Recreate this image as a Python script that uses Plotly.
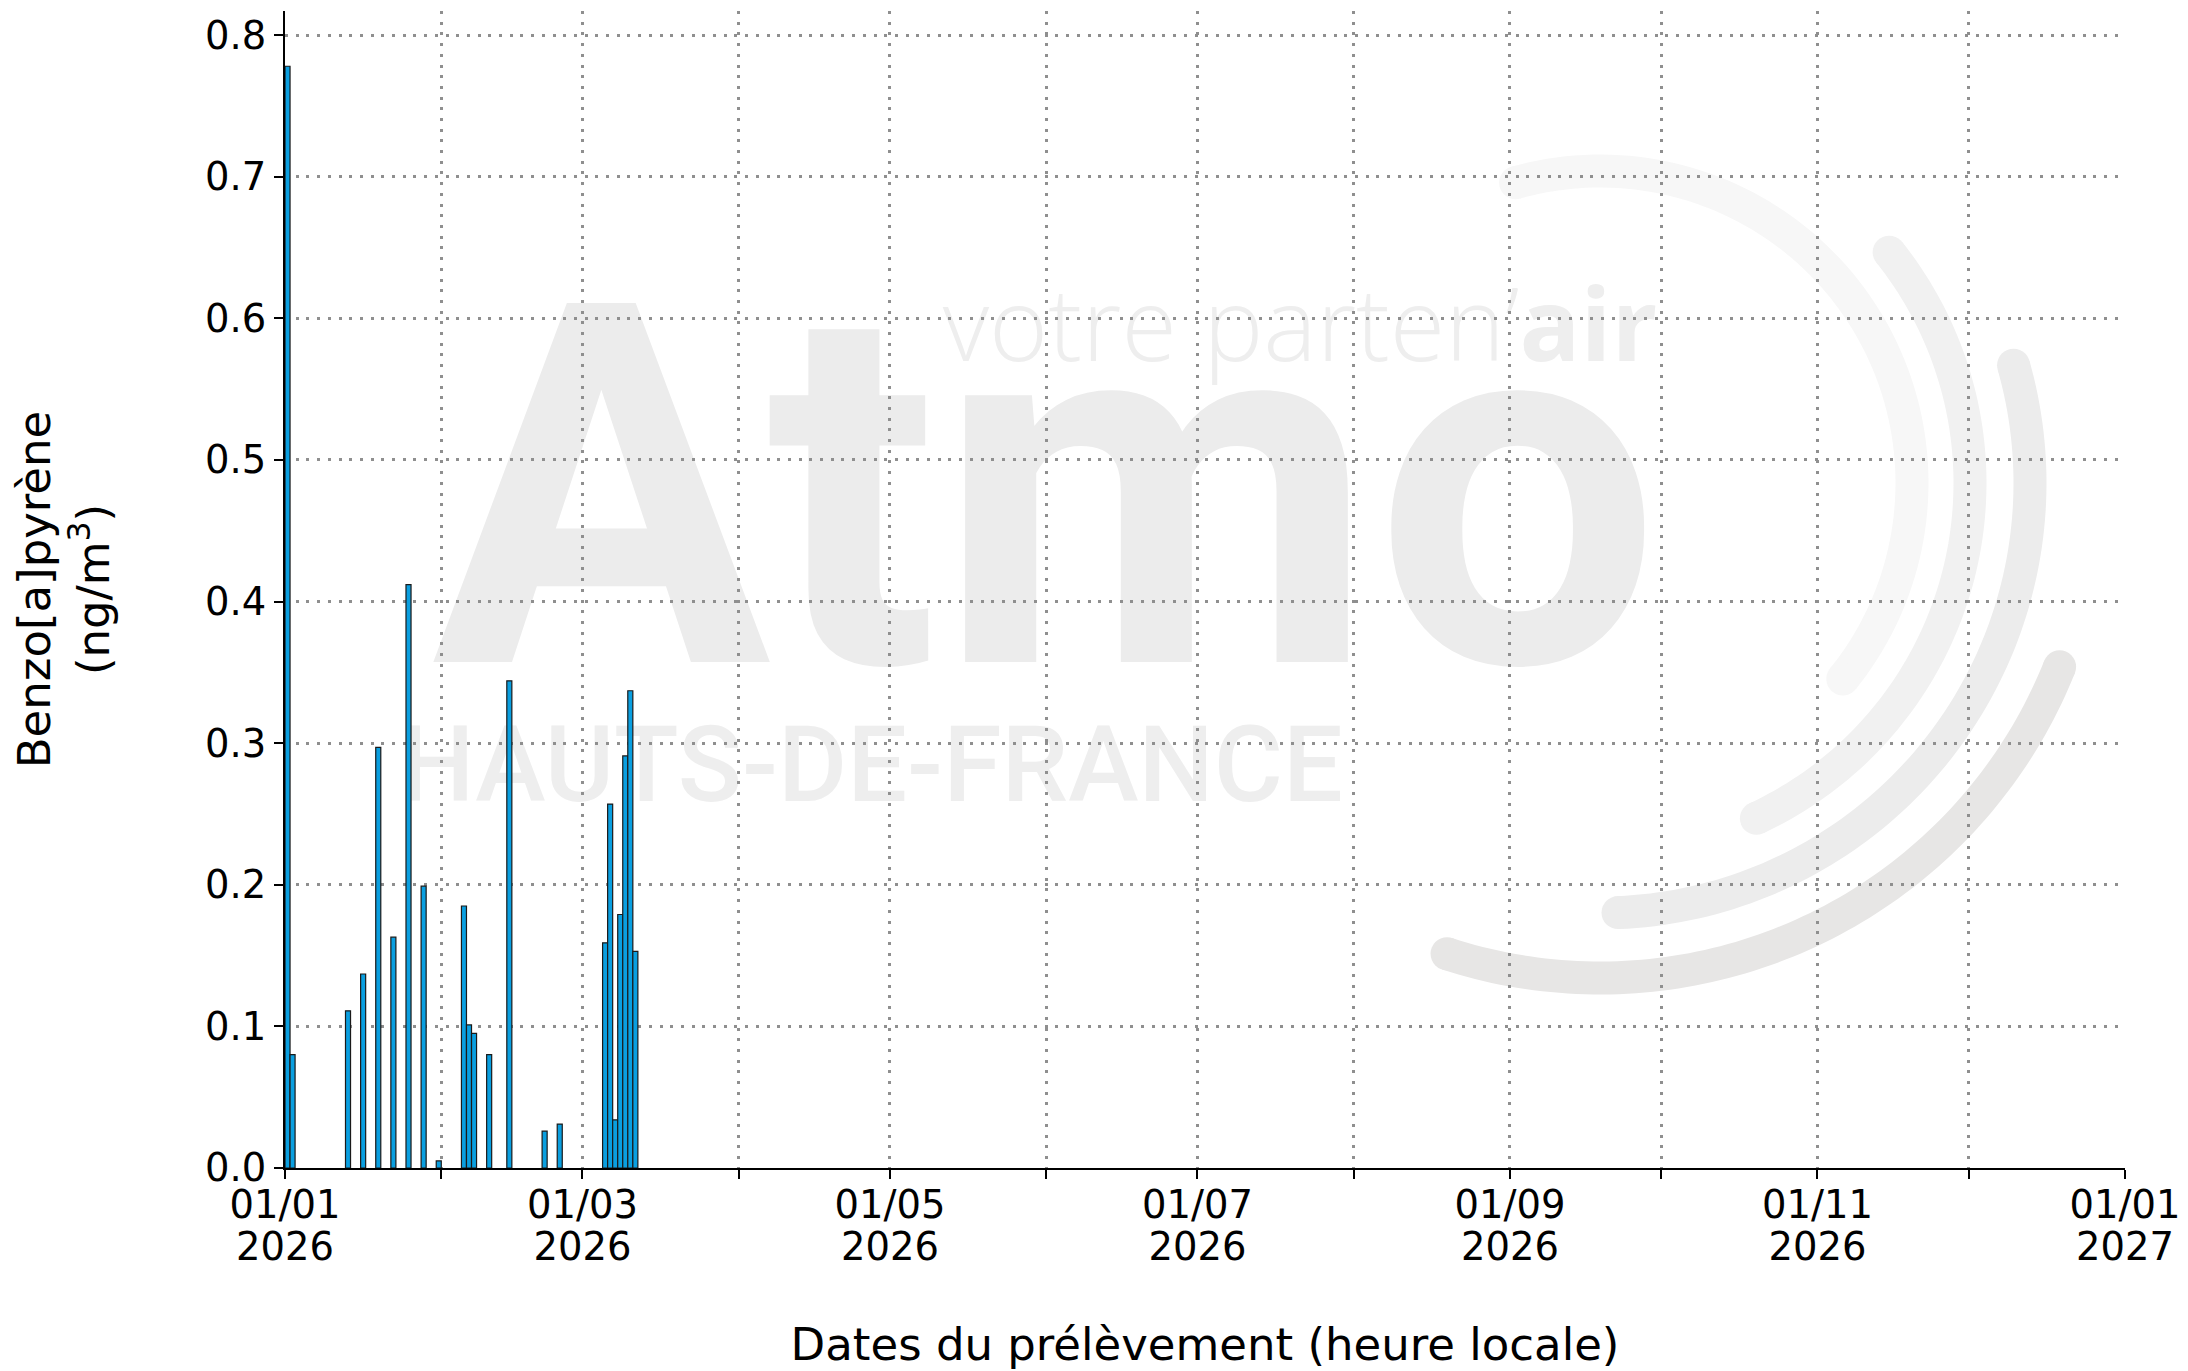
import math
import plotly.graph_objects as go

# ---------------- data ----------------
sample_dates = ["2026-01-01", "2026-01-02", "2026-01-13", "2026-01-16", "2026-01-19",
                "2026-01-22", "2026-01-25", "2026-01-28", "2026-01-31", "2026-02-05",
                "2026-02-06", "2026-02-07", "2026-02-10", "2026-02-14", "2026-02-21",
                "2026-02-24", "2026-03-05", "2026-03-06", "2026-03-07", "2026-03-08",
                "2026-03-09", "2026-03-10", "2026-03-11"]
bap_values = [0.778, 0.080, 0.111, 0.137, 0.297,
              0.163, 0.412, 0.199, 0.005, 0.185,
              0.101, 0.095, 0.080, 0.344, 0.026,
              0.031, 0.159, 0.257, 0.034, 0.179,
              0.291, 0.337, 0.153]
month_ticks = ["2026-01-01", "2026-02-01", "2026-03-01", "2026-04-01", "2026-05-01",
               "2026-06-01", "2026-07-01", "2026-08-01", "2026-09-01", "2026-10-01",
               "2026-11-01", "2026-12-01", "2027-01-01"]
day_labels = ["01/01", "", "01/03", "", "01/05", "", "01/07", "", "01/09", "",
              "01/11", "", "01/01"]
year_labels = ["2026", "", "2026", "", "2026", "", "2026", "", "2026", "",
               "2026", "", "2027"]
y_ticks = [0.0, 0.1, 0.2, 0.3, 0.4, 0.5, 0.6, 0.7, 0.8]
x_range = ["2026-01-01", "2027-01-01"]
y_range = [0, 0.817]
x_title = "Dates du prélèvement (heure locale)"
y_title = "Benzo[a]pyrène<br>(ng/m<sup>3</sup>)"

# ---------------- geometry (page pixels) ----------------
PAGE_W, PAGE_H = 2188, 1371
OFF = 8                      # default body margin of the html page
FIG_W, FIG_H = PAGE_W - OFF, PAGE_H - OFF
PL, PR, PT, PB = 285, 2125, 11, 1168   # plot area in page pixels
L, T = PL - OFF, PT - OFF
R = FIG_W - (PR - OFF)
B = FIG_H - (PB - OFF)
PW, PH = PR - PL, PB - PT


def px(X):
    return (X - PL) / PW


def py(Y):
    return (PB - Y) / PH


shapes = []

# watermark arcs (logo decoration)
CX, CY = 1600, 483
arcs = [  # radius, start deg, end deg, colour
    (312, 105.7, -38.9, "#f7f7f7"),
    (370, 38.6, -65.0, "#f1f1f1"),
    (430, 15.9, -87.6, "#ececec"),
    (495, -21.8, -108.0, "#e7e6e5"),
]
SW = 33
for r, a0, a1, col in arcs:
    n = 90
    pts = []
    for i in range(n + 1):
        a = math.radians(a0 + (a1 - a0) * i / n)
        X = CX + r * math.cos(a)
        Y = CY - r * math.sin(a)
        pts.append((px(X), py(Y)))
    path = "M " + " L ".join(f"{x:.5f},{y:.5f}" for x, y in pts)
    shapes.append(dict(type="path", xref="paper", yref="paper", path=path,
                       line=dict(color=col, width=SW), layer="below"))
    for a in (a0, a1):
        ar = math.radians(a)
        X = CX + r * math.cos(ar)
        Y = CY - r * math.sin(ar)
        shapes.append(dict(type="circle", xref="paper", yref="paper",
                           x0=px(X - SW / 2), x1=px(X + SW / 2),
                           y0=py(Y + SW / 2), y1=py(Y - SW / 2),
                           fillcolor=col, line=dict(width=0), layer="below"))


def text_shape(cx, cy, text, family, size, color, weight):
    return dict(type="rect", xref="paper", yref="paper",
                x0=px(cx - 10), x1=px(cx + 10), y0=py(cy + 10), y1=py(cy - 10),
                line=dict(width=0), fillcolor="rgba(0,0,0,0)", layer="below",
                label=dict(text=text, textposition="middle center",
                           font=dict(family=family, size=size, color=color, weight=weight)))


shapes.append(text_shape(1046, 453, "Atmo", "Roboto", 505, "#ececec", 700))
shapes.append(text_shape(871, 757, "HAUTS-DE-FRANCE", "Roboto", 106, "#eeeeee", 500))
shapes.append(text_shape(1300, 329, "votre parten’<b>air</b>", "Open Sans", 101, "#eeeeee", 300))

# ---------------- figure ----------------
fig = go.Figure()
fig.add_trace(go.Bar(
    x=sample_dates, y=bap_values,
    width=86400000, offset=0,
    marker=dict(color="#0a9fe0", line=dict(color="#1a1a1a", width=1.2)),
    showlegend=False,
))
# empty helper trace so that the second (year-label) x axis is drawn
fig.add_trace(go.Scatter(x=[], y=[], xaxis="x2", yaxis="y", mode="markers",
                         showlegend=False, hoverinfo="skip"))

tick_font = dict(family="DejaVu Sans", size=38.5, color="black")
title_font = dict(family="DejaVu Sans", size=45, color="black")
grid = dict(showgrid=True, gridcolor="#8f8f8f", gridwidth=3, griddash="3px,7.7px")

fig.update_layout(
    width=FIG_W, height=FIG_H,
    margin=dict(l=L, r=R, t=T, b=B, autoexpand=False),
    paper_bgcolor="white", plot_bgcolor="white",
    shapes=shapes,
    xaxis=dict(type="date", range=x_range,
               tickmode="array", tickvals=month_ticks, ticktext=day_labels,
               ticks="outside", ticklen=9, tickwidth=2, tickcolor="black",
               ticklabelstandoff=-7, ticklabeloverflow="allow",
               showline=True, linecolor="black", linewidth=2, zeroline=False,
               tickfont=tick_font,
               title=dict(text=x_title, font=title_font, standoff=115),
               **grid),
    xaxis2=dict(type="date", range=x_range, overlaying="x", anchor="y", side="bottom",
                tickmode="array", tickvals=month_ticks, ticktext=year_labels,
                ticks="outside", ticklen=9, tickwidth=2, tickcolor="rgba(0,0,0,0)",
                ticklabelstandoff=36, ticklabeloverflow="allow",
                showline=False, showgrid=False, zeroline=False,
                tickfont=tick_font),
    yaxis=dict(range=y_range, tickmode="array", tickvals=y_ticks, tickformat=".1f",
               ticks="outside", ticklen=9, tickwidth=2, tickcolor="black",
               showline=True, linecolor="black", linewidth=2, zeroline=False,
               tickfont=tick_font,
               title=dict(text=y_title, font=title_font, standoff=91),
               **grid),
)

fig.write_html("out.html")
